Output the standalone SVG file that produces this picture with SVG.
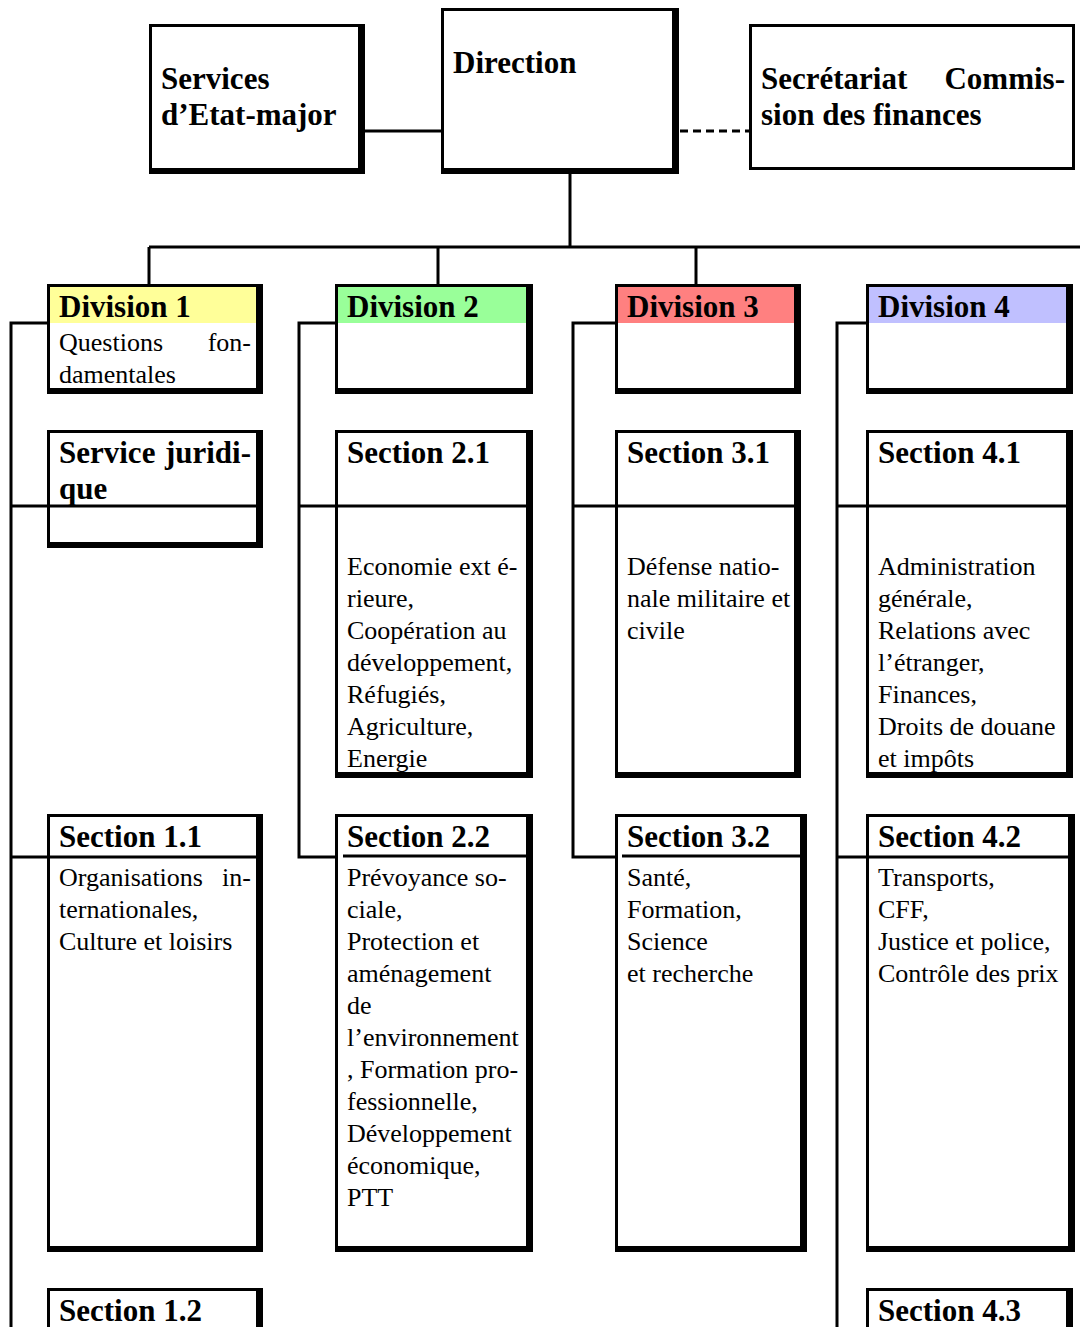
<svg xmlns="http://www.w3.org/2000/svg" width="1080" height="1327" viewBox="0 0 1080 1327">
<style>
.box{fill:#fff;stroke:#000;stroke-width:3}
.sh{fill:#000}
.ln{stroke:#000;stroke-width:3;fill:none}
.dash{stroke:#000;stroke-width:3;fill:none;stroke-dasharray:8 5}
.t{font-family:"Liberation Serif","Times New Roman",serif;font-size:31px;font-weight:bold;fill:#000}
.b{font-family:"Liberation Serif","Times New Roman",serif;font-size:26px;fill:#000}
.e{text-anchor:end}
</style>
<rect width="1080" height="1327" fill="#fff"/>
<g id="connectors">
<line class="ln" x1="365" y1="131" x2="441" y2="131"/>
<line class="dash" x1="680" y1="131" x2="749" y2="131"/>
<line class="ln" x1="570" y1="174" x2="570" y2="247"/>
<line class="ln" x1="149" y1="247" x2="1080" y2="247"/>
<line class="ln" x1="149" y1="247" x2="149" y2="284"/>
<line class="ln" x1="438" y1="247" x2="438" y2="284"/>
<line class="ln" x1="696" y1="247" x2="696" y2="284"/>
<polyline class="ln" points="47,323 11,323 11,1327"/>
<polyline class="ln" points="335,323 299,323 299,857 335,857"/>
<polyline class="ln" points="615,323 573,323 573,857 615,857"/>
<polyline class="ln" points="866,323 837,323 837,1327"/>
<line class="ln" x1="11" y1="506" x2="258" y2="506"/>
<line class="ln" x1="299" y1="506" x2="528" y2="506"/>
<line class="ln" x1="573" y1="506" x2="796" y2="506"/>
<line class="ln" x1="837" y1="506" x2="1068" y2="506"/>
<line class="ln" x1="11" y1="857" x2="258" y2="857"/>
<line class="ln" x1="837" y1="857" x2="1070" y2="857"/>
</g>
<g id="services">
<rect class="box" x="150.5" y="25.5" width="213" height="147"/>
<rect class="sh" x="358" y="24" width="7" height="150"/><rect class="sh" x="149" y="168" width="216" height="6"/>
<text class="t" x="161" y="89">Services</text>
<text class="t" x="161" y="125">d’Etat-major</text>
</g>
<g id="direction">
<rect class="box" x="442.5" y="9.5" width="235" height="163"/>
<rect class="sh" x="672" y="8" width="7" height="166"/><rect class="sh" x="441" y="168" width="238" height="6"/>
<text class="t" x="453" y="73">Direction</text>
</g>
<g id="secretariat">
<rect class="box" x="750.5" y="25.5" width="323" height="143"/>
<text class="t" x="761" y="89">Secrétariat</text>
<text class="t e" x="1065" y="89">Commis-</text>
<text class="t" x="761" y="125">sion des finances</text>
</g>
<g id="division1">
<rect class="box" x="48.5" y="285.5" width="213" height="107"/>
<rect x="50" y="287" width="206" height="36" fill="#FFFF99"/>
<rect class="sh" x="256" y="284" width="7" height="110"/><rect class="sh" x="47" y="388" width="216" height="6"/>
<text class="t" x="59" y="317">Division 1</text>
<text class="b" x="59" y="351">Questions</text>
<text class="b e" x="251" y="351">fon-</text>
<text class="b" x="59" y="383">damentales</text>
</g>
<g id="division2">
<rect class="box" x="336.5" y="285.5" width="195" height="107"/>
<rect x="338" y="287" width="188" height="36" fill="#99FF99"/>
<rect class="sh" x="526" y="284" width="7" height="110"/><rect class="sh" x="335" y="388" width="198" height="6"/>
<text class="t" x="347" y="317">Division 2</text>
</g>
<g id="division3">
<rect class="box" x="616.5" y="285.5" width="183" height="107"/>
<rect x="618" y="287" width="176" height="36" fill="#FF8080"/>
<rect class="sh" x="794" y="284" width="7" height="110"/><rect class="sh" x="615" y="388" width="186" height="6"/>
<text class="t" x="627" y="317">Division 3</text>
</g>
<g id="division4">
<rect class="box" x="867.5" y="285.5" width="204" height="107"/>
<rect x="869" y="287" width="197" height="36" fill="#C0C0FF"/>
<rect class="sh" x="1066" y="284" width="7" height="110"/><rect class="sh" x="866" y="388" width="207" height="6"/>
<text class="t" x="878" y="317">Division 4</text>
</g>
<g id="service-juridique">
<rect class="box" x="48.5" y="431.5" width="213" height="115"/>
<rect class="sh" x="256" y="430" width="7" height="118"/><rect class="sh" x="47" y="542" width="216" height="6"/>
<line class="ln" x1="47" y1="506" x2="258" y2="506"/>
<text class="t" x="59" y="463">Service</text>
<text class="t e" x="251" y="463">juridi-</text>
<text class="t" x="59" y="499">que</text>
</g>
<g id="section21">
<rect class="box" x="336.5" y="431.5" width="195" height="345"/>
<rect class="sh" x="526" y="430" width="7" height="348"/><rect class="sh" x="335" y="772" width="198" height="6"/>
<line class="ln" x1="335" y1="506" x2="528" y2="506"/>
<text class="t" x="347" y="463">Section 2.1</text>
<text class="b" x="347" y="575">Economie ext é-</text>
<text class="b" x="347" y="607">rieure,</text>
<text class="b" x="347" y="639">Coopération au</text>
<text class="b" x="347" y="671">développement,</text>
<text class="b" x="347" y="703">Réfugiés,</text>
<text class="b" x="347" y="735">Agriculture,</text>
<text class="b" x="347" y="767">Energie</text>
</g>
<g id="section31">
<rect class="box" x="616.5" y="431.5" width="183" height="345"/>
<rect class="sh" x="794" y="430" width="7" height="348"/><rect class="sh" x="615" y="772" width="186" height="6"/>
<line class="ln" x1="615" y1="506" x2="796" y2="506"/>
<text class="t" x="627" y="463">Section 3.1</text>
<text class="b" x="627" y="575">Défense natio-</text>
<text class="b" x="627" y="607">nale militaire et</text>
<text class="b" x="627" y="639">civile</text>
</g>
<g id="section41">
<rect class="box" x="867.5" y="431.5" width="204" height="345"/>
<rect class="sh" x="1066" y="430" width="7" height="348"/><rect class="sh" x="866" y="772" width="207" height="6"/>
<line class="ln" x1="866" y1="506" x2="1068" y2="506"/>
<text class="t" x="878" y="463">Section 4.1</text>
<text class="b" x="878" y="575">Administration</text>
<text class="b" x="878" y="607">générale,</text>
<text class="b" x="878" y="639">Relations avec</text>
<text class="b" x="878" y="671">l’étranger,</text>
<text class="b" x="878" y="703">Finances,</text>
<text class="b" x="878" y="735">Droits de douane</text>
<text class="b" x="878" y="767">et impôts</text>
</g>
<g id="section11">
<rect class="box" x="48.5" y="815.5" width="213" height="435"/>
<rect class="sh" x="256" y="814" width="7" height="438"/><rect class="sh" x="47" y="1246" width="216" height="6"/>
<line class="ln" x1="47" y1="857" x2="258" y2="857"/>
<text class="t" x="59" y="847">Section 1.1</text>
<text class="b" x="59" y="886">Organisations</text>
<text class="b e" x="251" y="886">in-</text>
<text class="b" x="59" y="918">ternationales,</text>
<text class="b" x="59" y="950">Culture et loisirs</text>
</g>
<g id="section22">
<rect class="box" x="336.5" y="815.5" width="195" height="435"/>
<rect class="sh" x="526" y="814" width="7" height="438"/><rect class="sh" x="335" y="1246" width="198" height="6"/>
<line class="ln" x1="343" y1="856" x2="526" y2="856"/>
<text class="t" x="347" y="847">Section 2.2</text>
<text class="b" x="347" y="886">Prévoyance so-</text>
<text class="b" x="347" y="918">ciale,</text>
<text class="b" x="347" y="950">Protection et</text>
<text class="b" x="347" y="982">aménagement</text>
<text class="b" x="347" y="1014">de</text>
<text class="b" x="347" y="1046">l’environnement</text>
<text class="b" x="347" y="1078">, Formation pro-</text>
<text class="b" x="347" y="1110">fessionnelle,</text>
<text class="b" x="347" y="1142">Développement</text>
<text class="b" x="347" y="1174">économique,</text>
<text class="b" x="347" y="1206">PTT</text>
</g>
<g id="section32">
<rect class="box" x="616.5" y="815.5" width="189" height="435"/>
<rect class="sh" x="800" y="814" width="7" height="438"/><rect class="sh" x="615" y="1246" width="192" height="6"/>
<line class="ln" x1="622" y1="856" x2="801" y2="856"/>
<text class="t" x="627" y="847">Section 3.2</text>
<text class="b" x="627" y="886">Santé,</text>
<text class="b" x="627" y="918">Formation,</text>
<text class="b" x="627" y="950">Science</text>
<text class="b" x="627" y="982">et recherche</text>
</g>
<g id="section42">
<rect class="box" x="867.5" y="815.5" width="206" height="435"/>
<rect class="sh" x="1068" y="814" width="7" height="438"/><rect class="sh" x="866" y="1246" width="209" height="6"/>
<line class="ln" x1="866" y1="857" x2="1070" y2="857"/>
<text class="t" x="878" y="847">Section 4.2</text>
<text class="b" x="878" y="886">Transports,</text>
<text class="b" x="878" y="918">CFF,</text>
<text class="b" x="878" y="950">Justice et police,</text>
<text class="b" x="878" y="982">Contrôle des prix</text>
</g>
<g id="section12">
<rect class="box" x="48.5" y="1289.5" width="213" height="60"/>
<rect class="sh" x="256" y="1288" width="7" height="62"/>
<text class="t" x="59" y="1321">Section 1.2</text>
</g>
<g id="section43">
<rect class="box" x="867.5" y="1289.5" width="204" height="60"/>
<rect class="sh" x="1066" y="1288" width="7" height="62"/>
<text class="t" x="878" y="1321">Section 4.3</text>
</g>
</svg>
